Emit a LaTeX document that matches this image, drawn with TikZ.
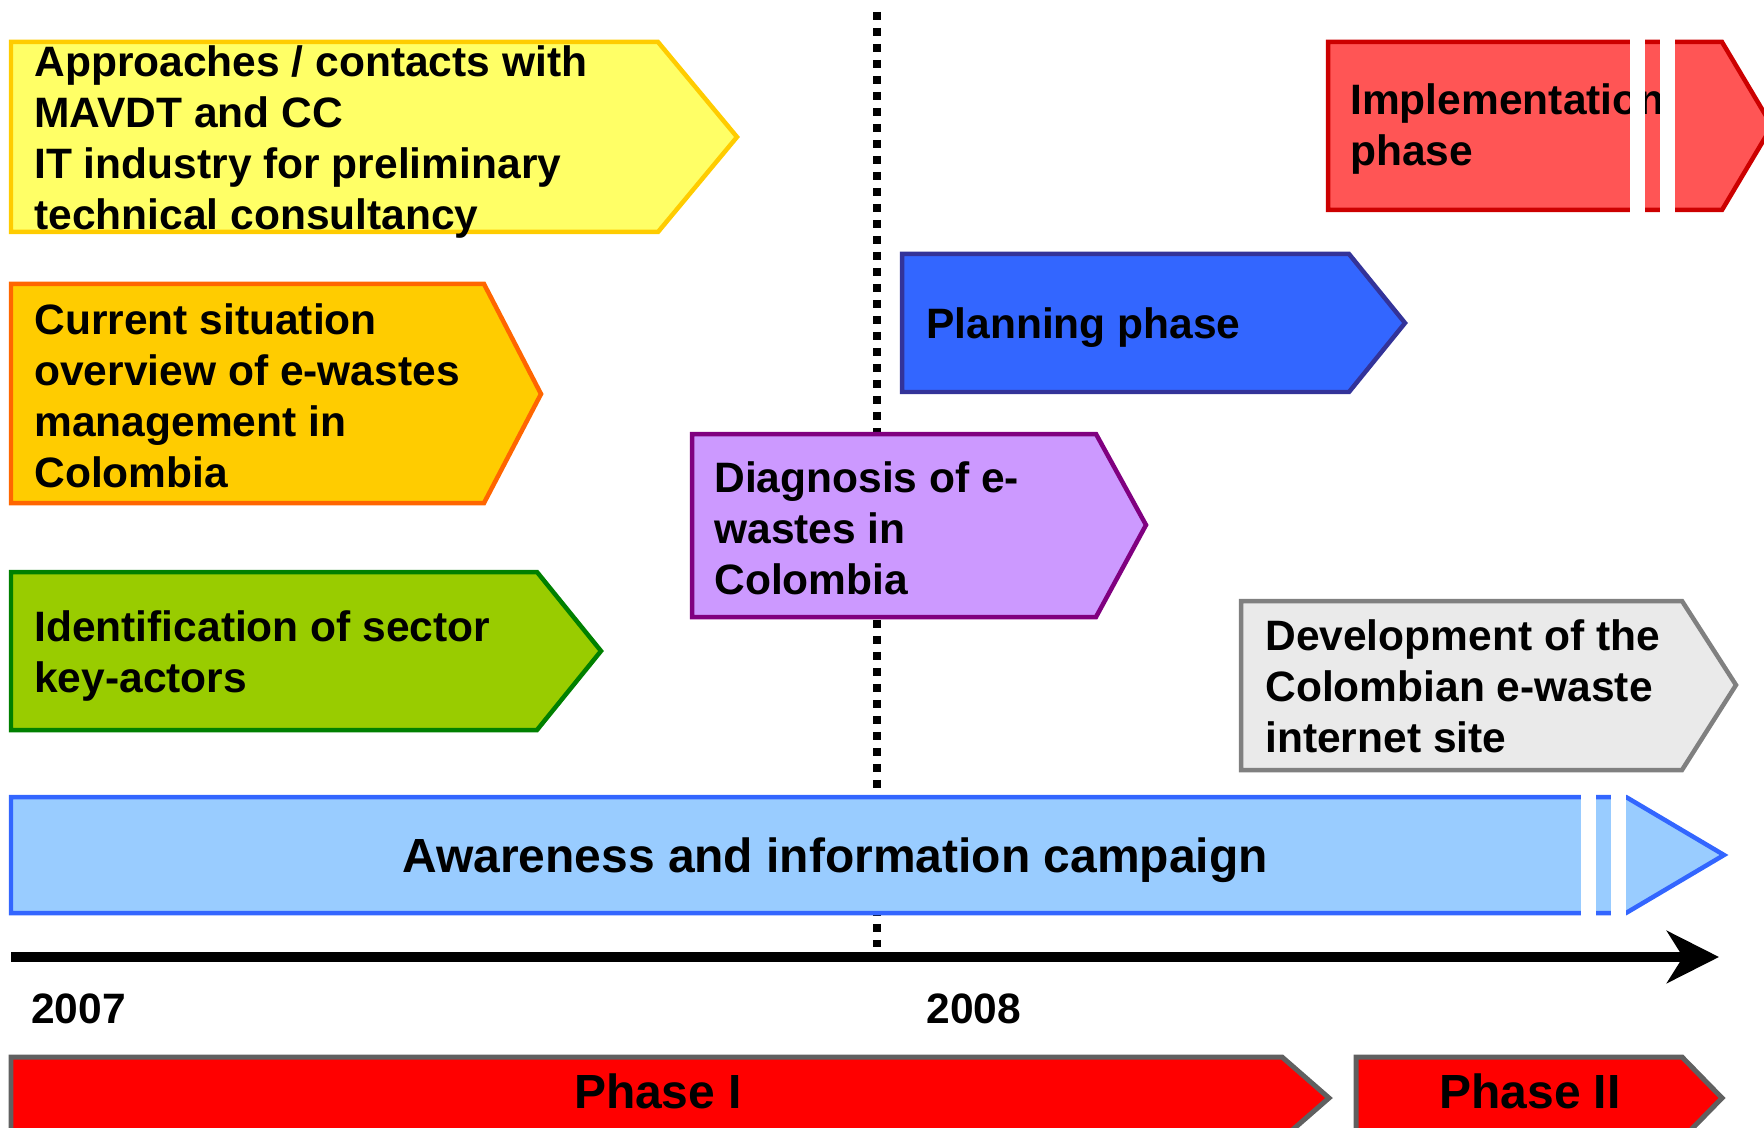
\documentclass[tikz,border=0pt]{standalone}
\usepackage{fontspec}
\setmainfont{Liberation Sans}
\usepackage{tikz}
\usetikzlibrary{arrows.meta}

\definecolor{yellowfill}{HTML}{FFFF66}
\definecolor{yellowline}{HTML}{FFCC00}
\definecolor{orangefill}{HTML}{FFCC00}
\definecolor{orangeline}{HTML}{FF6600}
\definecolor{greenfill}{HTML}{99CC00}
\definecolor{greenline}{HTML}{008000}
\definecolor{purplefill}{HTML}{CC99FF}
\definecolor{purpleline}{HTML}{800080}
\definecolor{planfill}{HTML}{3366FF}
\definecolor{planline}{HTML}{333399}
\definecolor{greyfill}{HTML}{EAEAEA}
\definecolor{greyline}{HTML}{808080}
\definecolor{implfill}{HTML}{FF5555}
\definecolor{implline}{HTML}{CC0000}
\definecolor{awarefill}{HTML}{99CCFF}
\definecolor{awareline}{HTML}{3366FF}
\definecolor{phasefill}{HTML}{FF0000}
\definecolor{phaseline}{HTML}{606060}

\begin{document}
\begin{tikzpicture}[x=0.02cm,y=-0.02cm,
  box/.style={line width=0.09cm,line join=miter},
  lbl/.style={inner sep=0pt,anchor=west,align=left,font=\fontsize{24.2}{29}\selectfont\bfseries},
  biglbl/.style={inner sep=0pt,font=\fontsize{27.3}{32}\selectfont\bfseries},
  cut/.style={fill=white,draw=none}]
\useasboundingbox (0,0) rectangle (1764,1128);
\clip (0,0) rectangle (1764,1128);

% turn of the year
\coordinate (dtop) at (877,12);
\coordinate (dbot) at (877,947);
\draw[line width=0.16cm,dash pattern=on 0.16cm off 0.16cm] (dtop) -- (dbot);

% activities of 2007
\draw[box,fill=yellowfill,draw=yellowline] (11,42) -- (658,42) -- (737,137) -- (658,232) -- (11,232) -- cycle;
\node[lbl] (approach) at (34,142) {Approaches / contacts with\\MAVDT and CC\\IT industry for preliminary\\technical consultancy};

\draw[box,fill=orangefill,draw=orangeline] (11,284) -- (484,284) -- (541,394) -- (484,503) -- (11,503) -- cycle;
\node[lbl] (situation) at (34,396) {Current situation\\overview of e-wastes\\management in\\Colombia};

\draw[box,fill=greenfill,draw=greenline] (11,572) -- (537,572) -- (601,651) -- (537,730) -- (11,730) -- cycle;
\node[lbl] (actors) at (34,656) {Identification of sector\\key-actors};

\draw[box,fill=purplefill,draw=purpleline] (692,434) -- (1096,434) -- (1146,525) -- (1096,617) -- (692,617) -- cycle;
\node[lbl] (diagnosis) at (714,528) {Diagnosis of e-\\wastes in\\Colombia};

% activities of 2008
\draw[box,fill=planfill,draw=planline] (902,254) -- (1349,254) -- (1405,323) -- (1349,392) -- (902,392) -- cycle;
\node[lbl] (planning) at (926,328) {Planning phase};

\draw[box,fill=greyfill,draw=greyline] (1241,601) -- (1682,601) -- (1736,685) -- (1682,770) -- (1241,770) -- cycle;
\node[lbl] (website) at (1265,686) {Development of the\\Colombian e-waste\\internet site};

\draw[box,fill=implfill,draw=implline] (1328,42) -- (1722,42) -- (1772,126) -- (1722,210) -- (1328,210) -- cycle;
\node[lbl] (implement) at (1350,129) {Implementation\\phase};
\fill[cut] (1630,30) rectangle (1645,222);
\fill[cut] (1660,30) rectangle (1675,222);

% running all along
\draw[box,fill=awarefill,draw=awareline] (11,797) -- (1626,797) -- (1724,855) -- (1626,913) -- (11,913) -- cycle;
\node[biglbl] (campaign) at (835,860) {Awareness and information campaign};
\fill[cut] (1581,785) rectangle (1596,925);
\fill[cut] (1611,785) rectangle (1626,925);

% time axis
\coordinate (tstart) at (11,957);
\coordinate (tend) at (1719,957);
\draw[line width=0.21cm,-{Stealth[length=1.04cm,width=1.04cm,inset=0.32cm]}] (tstart) -- (tend);
\node[lbl] (year07) at (31,1009) {2007};
\node[lbl] (year08) at (926,1009) {2008};

% phases
\draw[line width=0.1cm,fill=phasefill,draw=phaseline] (11,1057) -- (1282,1057) -- (1329,1098) -- (1282,1139) -- (11,1139) -- cycle;
\node[biglbl] (phaseone) at (658,1091) {Phase I};
\draw[line width=0.1cm,fill=phasefill,draw=phaseline] (1356,1057) -- (1682,1057) -- (1722,1098) -- (1682,1139) -- (1356,1139) -- cycle;
\node[biglbl] (phasetwo) at (1530,1091) {Phase II};
\end{tikzpicture}
\end{document}
